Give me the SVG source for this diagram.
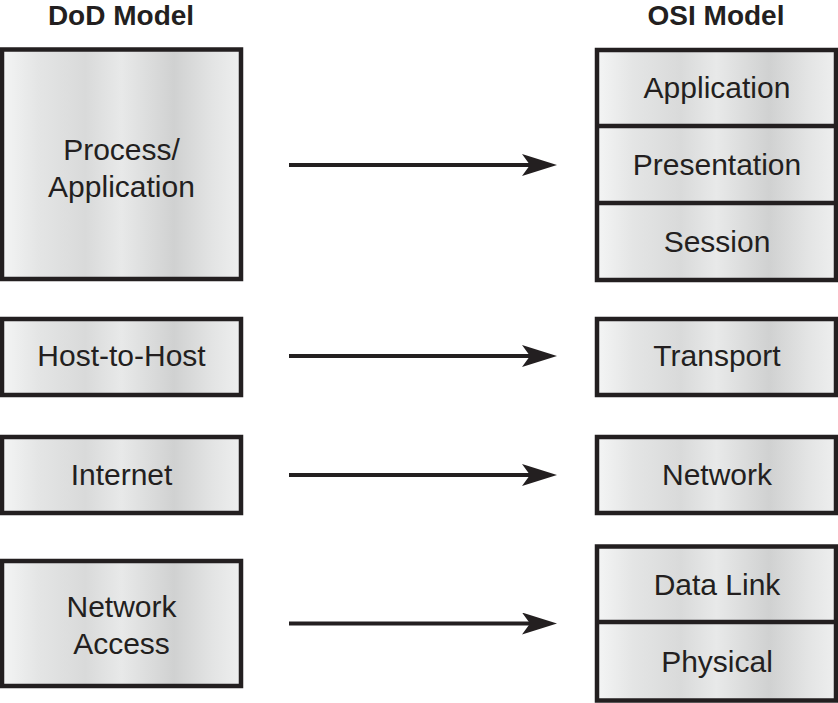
<svg xmlns="http://www.w3.org/2000/svg" width="838" height="703" viewBox="0 0 838 703">
<defs>
<linearGradient id="metal" x1="0" y1="0" x2="1" y2="0">
<stop offset="0" stop-color="#f4f5f5"/>
<stop offset="0.15" stop-color="#e4e5e5"/>
<stop offset="0.35" stop-color="#d9dada"/>
<stop offset="0.5" stop-color="#e8e9e9"/>
<stop offset="0.72" stop-color="#d0d1d1"/>
<stop offset="0.88" stop-color="#e3e4e4"/>
<stop offset="1" stop-color="#eeefef"/>
</linearGradient>
<marker id="arrow" markerUnits="userSpaceOnUse" markerWidth="36" markerHeight="24" refX="8" refY="11" orient="auto">
<path d="M0,0 L35,11 L0,22 L8,11 Z" fill="#231f20"/>
</marker>
</defs>
<style>
.box{fill:url(#metal);stroke:#231f20;stroke-width:4.5}
.div{stroke:#231f20;stroke-width:4.5}
.lbl{font-family:"Liberation Sans",Arial,sans-serif;font-size:30px;fill:#231f20;text-anchor:middle}
.ttl{font-family:"Liberation Sans",Arial,sans-serif;font-size:28px;font-weight:bold;fill:#231f20;text-anchor:middle}
.con{stroke:#231f20;stroke-width:4;fill:none}
</style>
<rect width="838" height="703" fill="#ffffff"/>
<g id="titles">
<text class="ttl" x="121" y="25">DoD Model</text>
<text class="ttl" x="716" y="25">OSI Model</text>
</g>
<g id="dod-process">
<rect class="box" x="2" y="49.5" width="239" height="229.5"/>
<text class="lbl" x="121.5" y="160">Process/</text>
<text class="lbl" x="121.5" y="197">Application</text>
</g>
<g id="dod-host">
<rect class="box" x="2" y="319" width="239" height="76"/>
<text class="lbl" x="121.5" y="366">Host-to-Host</text>
</g>
<g id="dod-internet">
<rect class="box" x="2" y="437" width="239" height="76"/>
<text class="lbl" x="121.5" y="485">Internet</text>
</g>
<g id="dod-netaccess">
<rect class="box" x="2" y="561" width="239" height="125"/>
<text class="lbl" x="121.5" y="617">Network</text>
<text class="lbl" x="121.5" y="654">Access</text>
</g>
<g id="osi-upper">
<rect class="box" x="597" y="50" width="239" height="230"/>
<line class="div" x1="597" y1="126" x2="836" y2="126"/>
<line class="div" x1="597" y1="203" x2="836" y2="203"/>
<text class="lbl" x="717" y="98">Application</text>
<text class="lbl" x="717" y="175">Presentation</text>
<text class="lbl" x="717" y="252">Session</text>
</g>
<g id="osi-transport">
<rect class="box" x="597" y="319" width="239" height="76"/>
<text class="lbl" x="717" y="366">Transport</text>
</g>
<g id="osi-network">
<rect class="box" x="597" y="437" width="239" height="76"/>
<text class="lbl" x="717" y="485">Network</text>
</g>
<g id="osi-lower">
<rect class="box" x="597" y="546.5" width="239" height="154"/>
<line class="div" x1="597" y1="622" x2="836" y2="622"/>
<text class="lbl" x="717" y="595">Data Link</text>
<text class="lbl" x="717" y="672">Physical</text>
</g>
<g id="connectors">
<line class="con" x1="289" y1="165" x2="530" y2="165" marker-end="url(#arrow)"/>
<line class="con" x1="289" y1="356" x2="530" y2="356" marker-end="url(#arrow)"/>
<line class="con" x1="289" y1="475" x2="530" y2="475" marker-end="url(#arrow)"/>
<line class="con" x1="289" y1="623.5" x2="530" y2="623.5" marker-end="url(#arrow)"/>
</g>
</svg>
